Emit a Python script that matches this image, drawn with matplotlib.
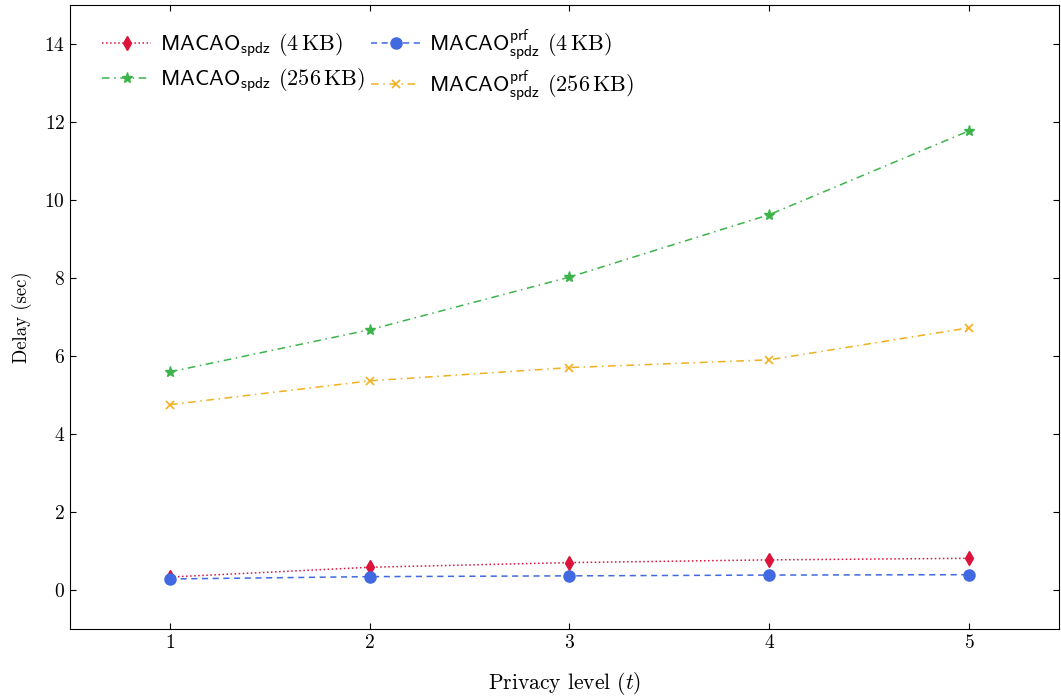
import matplotlib

matplotlib.use("Agg")
import matplotlib.pyplot as plt

# privacy level t and delays (sec)
levels = [1, 2, 3, 4, 5]
spdz_4kb = [0.33, 0.58, 0.70, 0.77, 0.81]
prf_4kb = [0.28, 0.34, 0.36, 0.38, 0.39]
spdz_256kb = [5.59, 6.67, 8.02, 9.62, 11.77]
prf_256kb = [4.75, 5.36, 5.70, 5.90, 6.72]

plt.rcParams["font.family"] = "serif"
plt.rcParams["font.serif"] = ["cmr10", "DejaVu Serif"]
plt.rcParams["mathtext.fontset"] = "cm"
plt.rcParams["axes.formatter.use_mathtext"] = True

fig = plt.figure(figsize=(10.61, 6.98), dpi=100)
ax = fig.add_axes([0.066, 0.099, 0.932, 0.894])

lab_spdz = r"$\mathsf{MACAO}_{\mathsf{spdz}}$"
lab_prf = r"$\mathsf{MACAO}_{\mathsf{spdz}}^{\mathsf{prf}}$"

h1, = ax.plot(levels, spdz_4kb, ":", color="#dc143c", lw=1.1, marker="d", ms=7,
              label=lab_spdz + r" $(4\,\mathrm{KB})$")
h2, = ax.plot(levels, prf_4kb, "--", color="#4169e1", lw=1.1, marker="o", ms=8,
              dashes=(4, 3), label=lab_prf + r" $(4\,\mathrm{KB})$")
h3, = ax.plot(levels, spdz_256kb, "-.", color="#3cb44b", lw=1.1, marker="*", ms=8,
              dashes=(5, 3, 1, 3), label=lab_spdz + r" $(256\,\mathrm{KB})$")
h4, = ax.plot(levels, prf_256kb, "-.", color="#f0b020", lw=1.1, marker="x", ms=6,
              mew=1.2, dashes=(5, 3, 1, 3), label=lab_prf + r" $(256\,\mathrm{KB})$")

ax.set_xlim(0.5, 5.45)
ax.set_ylim(-1, 15)
ax.set_xticks(levels)
ax.set_yticks(range(0, 15, 2))
ax.tick_params(direction="in", top=True, right=True, labelsize=14, length=4)
ax.set_xlabel(r"Privacy level $(t)$", fontsize=15.5, labelpad=13)
ax.set_ylabel("Delay (sec)", fontsize=13.5, labelpad=9)

# legend is filled row by row in the reference
ax.legend(handles=[h1, h3, h2, h4], loc="upper left", ncol=2, frameon=False,
          fontsize=16, handlelength=2.2, columnspacing=0.3, handletextpad=0.4,
          borderaxespad=0.6, labelspacing=0.3, bbox_to_anchor=(0.01, 1.0))

fig.savefig("out.png")
